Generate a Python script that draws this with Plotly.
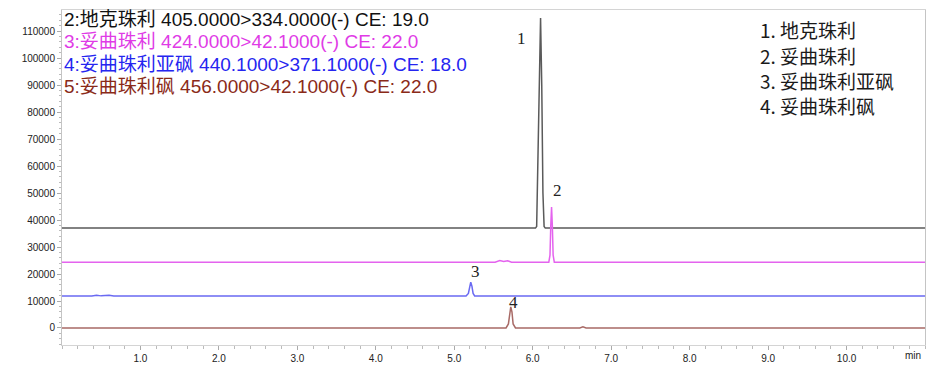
import plotly.graph_objects as go

# ---------------- data ----------------
# Trace 1: 地克珠利 (black), baseline ~37000
t1 = [0.00, 2.00, 4.00, 5.90, 6.035, 6.05, 6.065, 6.085, 6.100, 6.115, 6.130, 6.145, 6.160, 7.50, 9.00, 11.00]
y1 = [37000, 37050, 36950, 37000, 37000, 37600, 60000, 100000, 114800, 90000, 50000, 37600, 37000, 37050, 36950, 37000]

# Trace 2: 妥曲珠利 (magenta), baseline ~24400
t2 = [0.00, 3.00, 5.52, 5.58, 5.63, 5.68, 5.73, 6.205, 6.22, 6.23, 6.24, 6.25, 6.26, 6.275, 8.00, 11.00]
y2 = [24400, 24400, 24400, 25000, 24600, 24900, 24400, 24400, 27000, 38000, 44800, 38000, 27000, 24400, 24400, 24400]

# Trace 3: 妥曲珠利亚砜 (blue), baseline ~11850
t3 = [0.00, 0.38, 0.44, 0.50, 0.60, 0.66, 3.00, 5.15, 5.18, 5.195, 5.21, 5.225, 5.24, 5.26, 8.00, 11.00]
y3 = [11850, 11850, 12150, 11900, 12150, 11850, 11850, 11850, 12800, 15500, 17000, 15500, 12800, 11850, 11900, 11850]

# Trace 4: 妥曲珠利砜 (brown), baseline ~0
t4 = [0.00, 3.00, 5.66, 5.69, 5.705, 5.72, 5.735, 5.75, 5.78, 6.60, 6.64, 6.68, 11.00]
y4 = [0, 0, 0, 1500, 6000, 7800, 6000, 1500, 0, 0, 400, 0, 0]

series_t = [t1, t2, t3, t4]
series_y = [y1, y2, y3, y4]
line_colors = ["#5a5a5a", "#e463ee", "#6a6af2", "#a86a66"]

header_labels = [
    "2:地克珠利 405.0000>334.0000(-) CE: 19.0",
    "3:妥曲珠利 424.0000>42.1000(-) CE: 22.0",
    "4:妥曲珠利亚砜 440.1000>371.1000(-) CE: 18.0",
    "5:妥曲珠利砜 456.0000>42.1000(-) CE: 22.0",
]
header_colors = ["#111111", "#e03be6", "#2525f0", "#8a2a18"]

legend_labels = ["1. 地克珠利", "2. 妥曲珠利", "3. 妥曲珠利亚砜", "4. 妥曲珠利砜"]

peak_labels = ["1", "2", "3", "4"]
peak_label_t = [5.86, 6.31, 5.27, 5.76]
peak_label_y = [107400, 51100, 21100, 9600]

y_ticks = list(range(0, 110001, 10000))
x_ticks = [1.0, 2.0, 3.0, 4.0, 5.0, 6.0, 7.0, 8.0, 9.0, 10.0]
x_ticktext = ["1.0", "2.0", "3.0", "4.0", "5.0", "6.0", "7.0", "8.0", "9.0", "10.0"]

# ---------------- figure ----------------
W, H = 944, 370
ML, MR, MT, MB = 62, 19, 10, 25
PW, PH = W - ML - MR, H - MT - MB


def px(x):
    return (x - ML) / PW


def py(y):
    return (H - MB - y) / PH


fig = go.Figure()
for t, y, c in zip(series_t, series_y, line_colors):
    fig.add_trace(go.Scatter(x=t, y=y, mode="lines",
                             line=dict(color=c, width=1.5), showlegend=False,
                             hoverinfo="skip"))

annotations = []
sans = "Liberation Sans, Arial, Noto Sans CJK SC, sans-serif"
for i, (txt, col) in enumerate(zip(header_labels, header_colors)):
    annotations.append(dict(text=txt, xref="paper", yref="paper",
                            x=px(62), y=py(19 + i * 22.5),
                            xanchor="left", yanchor="middle", showarrow=False,
                            font=dict(family=sans, size=19, color=col)))

for i, txt in enumerate(legend_labels):
    annotations.append(dict(text=txt, xref="paper", yref="paper",
                            x=px(758), y=py(30 + i * 25),
                            xanchor="left", yanchor="middle", showarrow=False,
                            font=dict(family="Noto Sans CJK SC, sans-serif", size=19, color="#1a1a1a")))

for lab, t, y in zip(peak_labels, peak_label_t, peak_label_y):
    annotations.append(dict(text=lab, x=t, y=y, xref="x", yref="y",
                            xanchor="center", yanchor="middle", showarrow=False,
                            font=dict(family="Liberation Serif, Times New Roman, serif", size=17, color="#222222")))

annotations.append(dict(text="min", xref="paper", yref="paper", x=px(913), y=py(355),
                        xanchor="center", yanchor="middle", showarrow=False,
                        font=dict(family=sans, size=10, color="#222222")))

fig.update_layout(
    width=W, height=H,
    margin=dict(l=ML, r=MR, t=MT, b=MB, pad=0, autoexpand=False),
    paper_bgcolor="white", plot_bgcolor="white",
    annotations=annotations,
    font=dict(family=sans, size=10, color="#222222"),
)

fig.update_xaxes(
    range=[0, 11], showgrid=False, zeroline=False, automargin=False,
    tickmode="array", tickvals=x_ticks, ticktext=x_ticktext,
    ticks="outside", ticklen=4, tickcolor="#aaaaaa", tickwidth=1,
    minor=dict(dtick=0.2, tick0=0, ticks="outside", ticklen=3, tickcolor="#bbbbbb", showgrid=False),
    showline=True, linecolor="#d4d4d4", linewidth=1, mirror=True,
    tickfont=dict(family=sans, size=10, color="#222222"),
)
fig.update_yaxes(
    range=[-6300, 117800], showgrid=False, zeroline=False, automargin=False,
    tickmode="array", tickvals=y_ticks, ticktext=[str(v) for v in y_ticks],
    ticks="outside", ticklen=4, tickcolor="#aaaaaa", tickwidth=1,
    minor=dict(dtick=2000, tick0=0, ticks="outside", ticklen=2, tickcolor="#bbbbbb", showgrid=False),
    showline=True, linecolor="#c4c4c4", linewidth=1, mirror=True,
    tickfont=dict(family=sans, size=10, color="#222222"),
)

fig.write_html("out.html")
